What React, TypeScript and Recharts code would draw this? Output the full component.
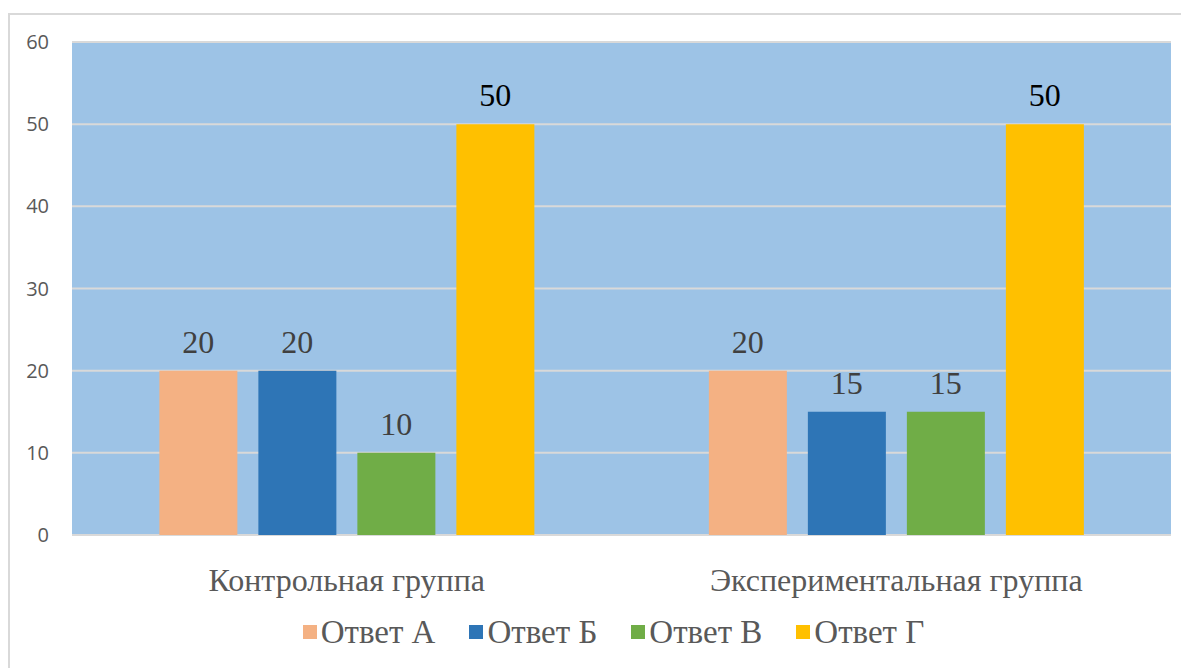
import React from 'react';
import { BarChart, Bar, XAxis, YAxis, CartesianGrid, Legend, LabelList } from 'recharts';

const groups = ['Контрольная группа', 'Экспериментальная группа'];
const answerA = [20, 20];
const answerB = [20, 15];
const answerC = [10, 15];
const answerD = [50, 50];
const yTicks = [0, 10, 20, 30, 40, 50, 60];

const series = [
  { key: 'a', name: 'Ответ А', color: '#F4B183', labelColor: '#404040' },
  { key: 'b', name: 'Ответ Б', color: '#2E75B6', labelColor: '#404040' },
  { key: 'c', name: 'Ответ В', color: '#70AD47', labelColor: '#404040' },
  { key: 'd', name: 'Ответ Г', color: '#FFC000', labelColor: '#000000' },
];

const data = groups.map((g, i) => ({
  group: g,
  a: answerA[i],
  b: answerB[i],
  c: answerC[i],
  d: answerD[i],
}));

const SERIF = '"Liberation Serif", "Times New Roman", serif';

const CategoryTick = (props: any) => {
  const { x, y, payload } = props;
  return (
    <text x={x} y={y + 48} textAnchor="middle" fill="#595959" fontFamily={SERIF} fontSize={32}>
      {payload.value}
    </text>
  );
};

// Value label drawn above each bar, in the serif face
const makeValueLabel = (color: string) => (props: any) => {
  const { x, y, width, value } = props;
  return (
    <text
      x={Number(x) + Number(width) / 2}
      y={Number(y) - 18}
      textAnchor="middle"
      fill={color}
      style={{ fontFamily: SERIF, fontSize: 32 }}
    >
      {value}
    </text>
  );
};

const LegendContent = () => (
  <div
    style={{
      height: 60,
      boxSizing: 'border-box',
      paddingTop: 34,
      paddingLeft: 36,
      display: 'flex',
      justifyContent: 'center',
      alignItems: 'center',
      fontFamily: SERIF,
      fontSize: 33,
      color: '#595959',
    }}
  >
    {series.map((s) => (
      <div key={s.key} style={{ display: 'flex', alignItems: 'center', margin: '0 17px' }}>
        <div style={{ width: 14, height: 14, background: s.color, marginRight: 4 }} />
        <span style={{ lineHeight: '30px' }}>{s.name}</span>
      </div>
    ))}
  </div>
);

export default function App() {
  return (
    <div
      style={{
        marginTop: 5,
        width: 1200,
        height: 680,
        border: '2px solid #D9D9D9',
        boxSizing: 'border-box',
        background: '#FFFFFF',
      }}
    >
      <BarChart
        width={1175}
        height={640}
        data={data}
        margin={{ top: 27, right: 14, bottom: 10, left: 10 }}
        barCategoryGap="15.9%"
        barGap={21}
      >
        <CartesianGrid vertical={false} stroke="#D9D9D9" strokeWidth={2} fill="#9DC3E6" fillOpacity={1} />
        <XAxis
          dataKey="group"
          axisLine={false}
          tickLine={false}
          height={50}
          tick={<CategoryTick />}
          interval={0}
        />
        <YAxis
          domain={[0, 60]}
          ticks={yTicks}
          width={52}
          axisLine={false}
          tickLine={false}
          tickSize={0}
          tickMargin={23}
          tick={{ fill: '#595959', fontSize: 20, fontFamily: '"Open Sans", sans-serif' }}
        />
        <Legend verticalAlign="bottom" content={<LegendContent />} />
        {series.map((s) => (
          <Bar key={s.key} dataKey={s.key} name={s.name} fill={s.color} isAnimationActive={false}>
            <LabelList dataKey={s.key} content={makeValueLabel(s.labelColor)} />
          </Bar>
        ))}
      </BarChart>
    </div>
  );
}
